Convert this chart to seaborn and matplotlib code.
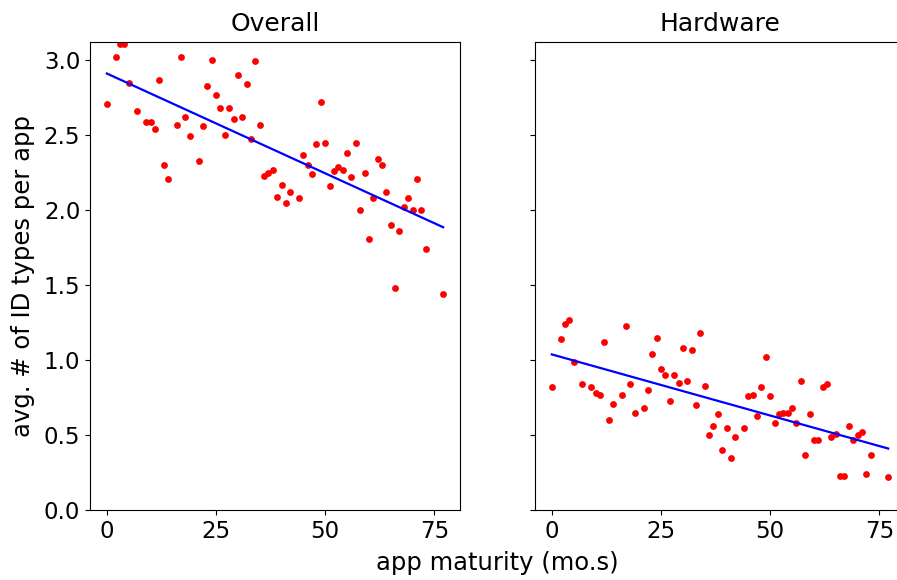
import matplotlib
matplotlib.use("Agg")
import matplotlib.pyplot as plt
import seaborn as sns
import numpy as np
import pandas as pd

months = [0, 2, 3, 4, 5, 7, 9, 10, 11, 12, 13, 14, 16, 17, 18, 19, 21, 22, 23, 24,
          25, 26, 27, 28, 29, 30, 31, 32, 33, 34, 35, 36, 37, 38, 39, 40, 41, 42, 44,
          45, 46, 47, 48, 49, 50, 51, 52, 53, 54, 55, 56, 57, 58, 59, 60, 61, 62, 63,
          64, 65, 66, 67, 68, 69, 70, 71, 72, 73, 77]

overall = [2.71, 3.02, 3.11, 3.11, 2.85, 2.66, 2.59, 2.59, 2.54, 2.87, 2.30, 2.21,
           2.57, 3.02, 2.62, 2.49, 2.33, 2.56, 2.83, 3.00, 2.77, 2.68, 2.50, 2.68,
           2.61, 2.90, 2.62, 2.84, 2.47, 2.99, 2.57, 2.23, 2.25, 2.27, 2.09, 2.17,
           2.05, 2.12, 2.08, 2.37, 2.30, 2.24, 2.44, 2.72, 2.45, 2.16, 2.26, 2.29,
           2.27, 2.38, 2.22, 2.45, 2.00, 2.25, 1.81, 2.08, 2.34, 2.30, 2.12, 1.90,
           1.48, 1.86, 2.02, 2.08, 2.00, 2.21, 2.00, 1.74, 1.44]

hardware = [0.82, 1.14, 1.24, 1.27, 0.99, 0.84, 0.82, 0.78, 0.77, 1.12, 0.60, 0.71,
            0.77, 1.23, 0.84, 0.65, 0.68, 0.80, 1.04, 1.15, 0.94, 0.90, 0.73, 0.90,
            0.85, 1.08, 0.86, 1.07, 0.70, 1.18, 0.83, 0.50, 0.56, 0.64, 0.40, 0.55,
            0.35, 0.49, 0.55, 0.76, 0.77, 0.63, 0.82, 1.02, 0.76, 0.58, 0.64, 0.65,
            0.65, 0.68, 0.58, 0.86, 0.37, 0.64, 0.47, 0.47, 0.82, 0.84, 0.49, 0.51,
            0.23, 0.23, 0.56, 0.47, 0.50, 0.52, 0.24, 0.37, 0.22]

panels = ["Overall", "Hardware"]
x_ticks = [0, 25, 50, 75]
y_ticks = [0.0, 0.5, 1.0, 1.5, 2.0, 2.5, 3.0]

df = pd.DataFrame({"months": months, "Overall": overall, "Hardware": hardware})

plt.rcParams["font.family"] = ["DejaVu Sans"]
plt.rcParams["font.size"] = 16

W, H = 897, 580
fig = plt.figure(figsize=(W / 100, H / 100), dpi=100)
ax_w = 370 / W
ax_h = (510 - 42) / H
bottom = (H - 510) / H
ax1 = fig.add_axes([90 / W, bottom, ax_w, ax_h])
ax2 = fig.add_axes([535 / W, bottom, ax_w, ax_h], sharey=ax1)

for ax, name in zip([ax1, ax2], panels):
    sns.regplot(data=df, x="months", y=name, ax=ax, ci=None,
                scatter_kws=dict(color="red", s=24, linewidths=0, alpha=1),
                line_kws=dict(color="blue", lw=1.6))
    ax.set_title(name, fontsize=18, pad=8)
    ax.set_xlabel("")
    ax.set_ylabel("")
    ax.set_xticks(x_ticks)
    ax.tick_params(labelsize=16.5)

ax1.set_yticks(y_ticks)
ax1.set_ylim(0, 3.12)
ax1.set_xlim(-3.85, 80.85)
ax2.set_xlim(-3.85, 80.85)
ax2.tick_params(labelleft=False)
ax1.set_ylabel("avg. # of ID types per app", fontsize=17.5, labelpad=6)
fig.text(497 / W, 1 - 563 / H, "app maturity (mo.s)", ha="center", va="center", fontsize=17.5)

fig.savefig("out.png", dpi=100)
